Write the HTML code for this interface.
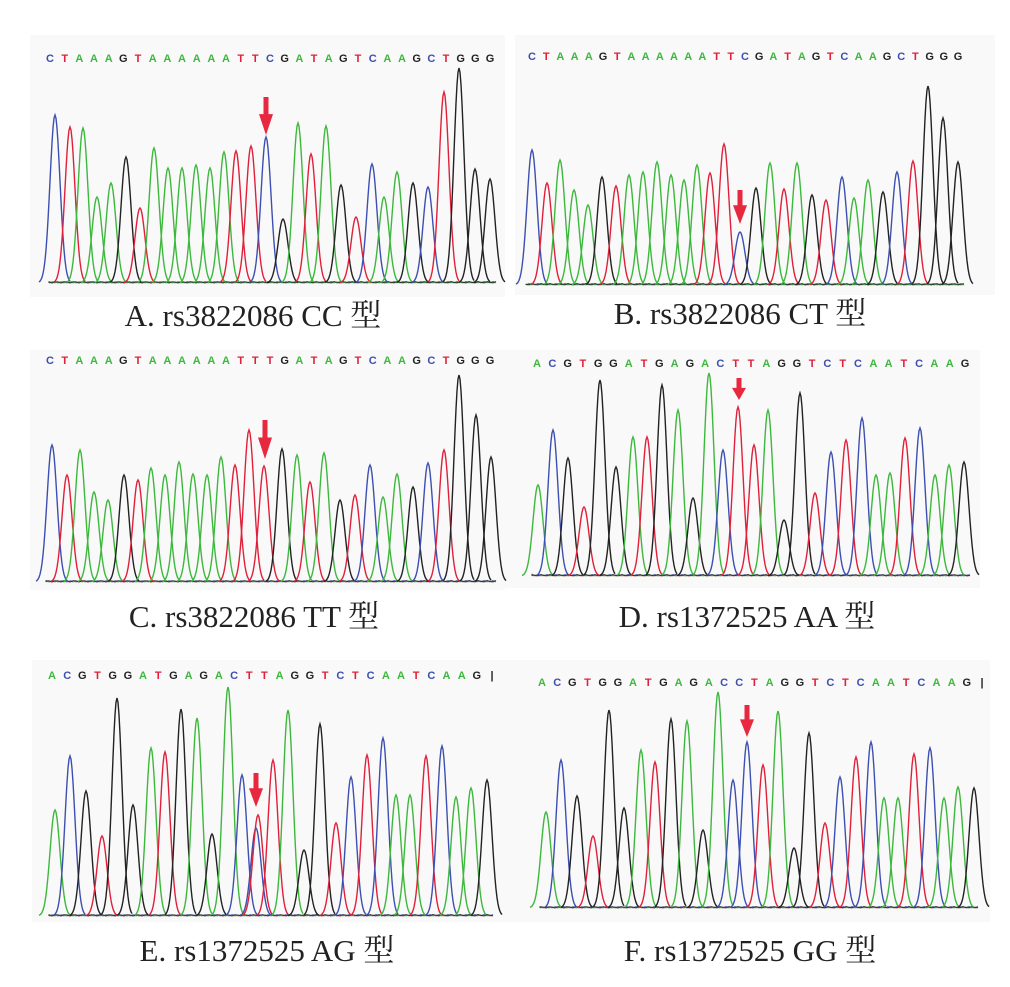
<!DOCTYPE html>
<html><head><meta charset="utf-8">
<style>
html,body{margin:0;padding:0;background:#fff;}
svg{display:block;}
</style></head>
<body>
<svg id="s" width="1010" height="987" viewBox="0 0 1010 987" xmlns="http://www.w3.org/2000/svg">
<rect width="1010" height="987" fill="#fff"/>
<rect x="30" y="35" width="475" height="262" fill="#f9f9f9"/>
<rect x="515" y="35" width="480" height="260" fill="#f9f9f9"/>
<rect x="30" y="350" width="475" height="240" fill="#f9f9f9"/>
<rect x="505" y="350" width="475" height="238" fill="#f9f9f9"/>
<rect x="32" y="660" width="475" height="262" fill="#f9f9f9"/>
<rect x="505" y="660" width="485" height="262" fill="#f9f9f9"/>
<g id="g"></g>
<g font-family="'Liberation Serif','Noto Serif CJK SC',serif" font-size="31" fill="#222" text-anchor="middle">
<text x="253" y="326">A. rs3822086 CC 型</text>
<text x="740" y="324">B. rs3822086 CT 型</text>
<text x="254" y="627">C. rs3822086 TT 型</text>
<text x="747" y="627">D. rs1372525 AA 型</text>
<text x="267" y="961">E. rs1372525 AG 型</text>
<text x="750" y="961">F. rs1372525 GG 型</text>
</g>
</svg>
<script>
var col={A:'#3db83d',C:'#3d4fb0',G:'#222',T:'#e0203a'};
var P=[
{seq:"CTAAAGTAAAAAATTCGATAGTCAAGCTGGG",lx0:50,lx1:490,ly:62,base:283,arrow:[266,97,135],
pk:[[55,'C',115],[70,'T',127],[83,'A',128],[97,'A',197],[111,'A',183],[126,'G',157],[140,'T',208],[154,'A',148],[168,'A',168],[182,'A',168],[196,'A',165],[210,'A',168],[224,'A',152],[236,'T',151],[251,'T',146],[266,'C',137],[283,'G',219],[298,'A',123],[311,'T',154],[326,'A',126],[341,'G',185],[356,'T',217],[372,'C',164],[384,'A',197],[397,'A',172],[413,'G',183],[428,'C',187],[444,'T',92],[459,'G',68],[475,'G',169],[490,'G',179]]},
{seq:"CTAAAGTAAAAAATTCGATAGTCAAGCTGGG",lx0:532,lx1:958,ly:60,base:285,arrow:[740,190,224],
pk:[[532,'C',150],[547,'T',183],[560,'A',160],[574,'A',190],[588,'A',205],[602,'G',177],[616,'T',186],[629,'A',175],[643,'A',172],[657,'A',162],[671,'A',175],[684,'A',180],[697,'A',165],[710,'T',173],[724,'T',144],[740,'C',232],[756,'G',188],[770,'A',163],[784,'T',189],[797,'A',163],[812,'G',195],[826,'T',200],[842,'C',177],[854,'A',198],[868,'A',180],[883,'G',192],[897,'C',172],[913,'T',161],[928,'G',86],[943,'G',118],[958,'G',162]]},
{seq:"CTAAAGTAAAAAATTTGATAGTCAAGCTGGG",lx0:50,lx1:490,ly:364,base:582,arrow:[265,420,459],
pk:[[52,'C',445],[67,'T',475],[80,'A',450],[94,'A',492],[108,'A',500],[124,'G',475],[138,'T',480],[151,'A',468],[165,'A',475],[179,'A',462],[193,'A',474],[207,'A',475],[221,'A',457],[235,'T',465],[249,'T',430],[264,'T',466],[282,'G',449],[297,'A',455],[310,'T',482],[324,'A',453],[340,'G',500],[355,'T',495],[370,'C',465],[383,'A',497],[397,'A',474],[413,'G',487],[428,'C',463],[444,'T',450],[459,'G',375],[476,'G',415],[491,'G',457]]},
{seq:"ACGTGGATGAGACTTAGGTCTCAATCAAG",lx0:537,lx1:965,ly:367,base:576,arrow:[739,378,400],
pk:[[538,'A',485],[553,'C',430],[568,'G',458],[584,'T',507],[600,'G',380],[616,'G',467],[633,'A',437],[647,'T',437],[662,'G',385],[678,'A',410],[693,'G',498],[709,'A',373],[723,'C',450],[738,'T',407],[754,'T',445],[768,'A',410],[784,'G',520],[800,'G',393],[815,'T',493],[831,'C',452],[846,'T',440],[862,'C',418],[876,'A',475],[890,'A',473],[905,'T',438],[920,'C',428],[935,'A',475],[949,'A',465],[964,'G',462]]},
{seq:"ACGTGGATGAGACTTAGGTCTCAATCAAG|",lx0:52,lx1:492,ly:679,base:916,arrow:[256,773,807],
pk:[[55,'A',810],[70,'C',756],[86,'G',791],[102,'T',836],[117,'G',698],[133,'G',805],[151,'A',748],[165,'T',752],[181,'G',709],[197,'A',718],[212,'G',834],[228,'A',687],[242,'C',775],[256,'C',828],[258,'T',815],[273,'T',760],[288,'A',710],[304,'G',850],[320,'G',724],[336,'T',823],[351,'C',777],[367,'T',755],[383,'C',738],[396,'A',795],[410,'A',795],[426,'T',756],[442,'C',746],[456,'A',797],[471,'A',788],[487,'G',780]]},
{seq:"ACGTGGATGAGACCTAGGTCTCAATCAAG|",lx0:542,lx1:982,ly:686,base:908,arrow:[747,705,737],
pk:[[546,'A',812],[561,'C',760],[577,'G',796],[593,'T',836],[609,'G',710],[624,'G',808],[641,'A',750],[655,'T',762],[671,'G',719],[687,'A',721],[703,'G',830],[718,'A',692],[733,'C',780],[747,'C',742],[763,'T',765],[778,'A',711],[794,'G',848],[809,'G',733],[825,'T',823],[840,'C',777],[856,'T',757],[871,'C',742],[884,'A',798],[898,'A',798],[914,'T',754],[930,'C',748],[944,'A',798],[958,'A',787],[974,'G',788]]}
];
var h='';
P.forEach(function(p){
  var n=p.seq.length, dx=(p.lx1-p.lx0)/(n-1);
  for(var i=0;i<n;i++){var ch=p.seq[i];
    h+='<text x="'+(p.lx0+i*dx).toFixed(1)+'" y="'+p.ly+'" font-family="Liberation Sans,sans-serif" font-weight="bold" font-size="11" text-anchor="middle" fill="'+(col[ch]||'#222')+'">'+ch+'</text>';}
  var x0=p.pk[0][0]-6,x1=p.pk[p.pk.length-1][0]+6;
  ['#e0203a','#3d4fb0','#3db83d','#222'].forEach(function(c,k){
    var d='M'+x0+' '+p.base;for(var x=x0;x<=x1;x+=3){d+=' L'+x+' '+(p.base-(Math.sin(x*0.7+k*2)+1)*0.8*(k%2?1:0.6)).toFixed(1);}
    h+='<path d="'+d+'" fill="none" stroke="'+c+'" stroke-width="1" opacity="0.8"/>';});
  p.pk.forEach(function(q){
    var x=q[0],c=col[q[1]],H=p.base-q[2],s=5,d='';
    for(var t=-3.2;t<=3.2;t+=0.2){var xx=x+t*s,yy=p.base-H*Math.exp(-t*t/2);d+=(d?' L':'M')+xx.toFixed(1)+' '+yy.toFixed(1);}
    h+='<path d="'+d+'" fill="none" stroke="'+c+'" stroke-width="1.4"/>';});
  var a=p.arrow,ax=a[0],ay0=a[1],ay1=a[2],m=ay0+(ay1-ay0)*0.45;
  h+='<path d="M'+(ax-2.5)+' '+ay0+' L'+(ax+2.5)+' '+ay0+' L'+(ax+2.5)+' '+m+' L'+(ax+7)+' '+m+' L'+ax+' '+ay1+' L'+(ax-7)+' '+m+' L'+(ax-2.5)+' '+m+' Z" fill="#e8283e"/>';
});
document.getElementById('g').innerHTML=h;
</script>
</body></html>
